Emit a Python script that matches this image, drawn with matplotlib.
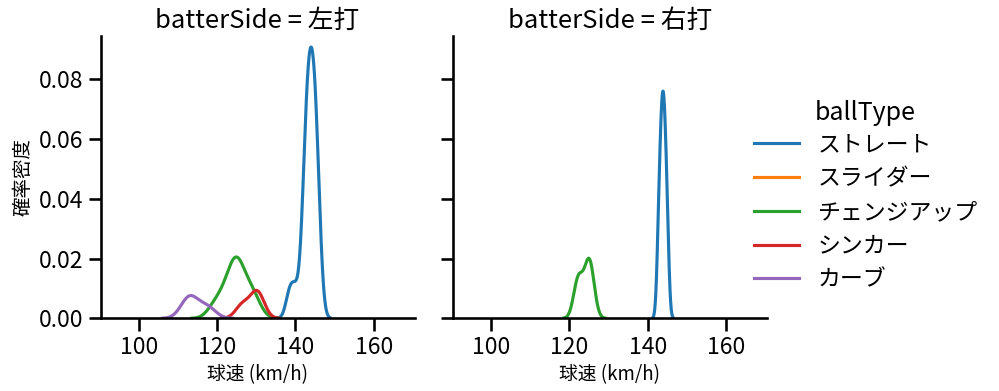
import numpy as np
import matplotlib
matplotlib.use("Agg")
import matplotlib.pyplot as plt

plt.rcParams['font.family'] = ['Noto Sans CJK JP', 'DejaVu Sans']

# ---- data (pitch speeds, km/h) ----
sides = ["左打", "右打"]
ball_types = ["ストレート", "スライダー", "チェンジアップ", "シンカー", "カーブ"]
colors = ["#1f77b4", "#ff7f0e", "#2ca02c", "#d62728", "#9467bd"]

left_straight = [138.5, 140.0, 142.1, 142.2, 142.6, 142.8, 143.0, 143.2, 143.4, 143.6,
                 143.8, 144.0, 144.2, 144.4, 144.6, 144.8, 145.0, 145.2, 145.4, 145.8, 145.9]
left_slider = [131.0]
left_changeup = [119.5, 122.0, 123.5, 124.5, 125.0, 125.5, 126.0, 128.5, 129.5]
left_sinker = [126.5, 130.0, 130.5]
left_curve = [112.5, 113.5, 117.5]

right_straight = [142.72, 143.12, 143.44, 143.67, 143.9, 144.13, 144.36, 144.68, 145.08]
right_slider = []
right_changeup = [122.0, 122.6, 124.6, 125.1, 125.6]
right_sinker = []
right_curve = []

panel_data = {
    "左打": [left_straight, left_slider, left_changeup, left_sinker, left_curve],
    "右打": [right_straight, right_slider, right_changeup, right_sinker, right_curve],
}

x_ticks = [100, 120, 140, 160]
y_ticks = [0.00, 0.02, 0.04, 0.06, 0.08]

n_total = sum(len(s) for side in sides for s in panel_data[side])


def kde_curve(samples, gridsize=200, cut=3):
    x = np.asarray(samples, float)
    n = len(x)
    sd = x.std(ddof=1)
    bw = sd * n ** (-1 / 5)
    grid = np.linspace(x.min() - cut * bw, x.max() + cut * bw, gridsize)
    dens = np.exp(-0.5 * ((grid[:, None] - x[None, :]) / bw) ** 2).sum(1)
    dens /= (bw * np.sqrt(2 * np.pi))
    return grid, dens / n_total


fig = plt.figure(figsize=(9.99, 3.91), dpi=100)
W, H = 999, 391
axes = []
for i, left_px in enumerate([100.7, 453.0]):
    ax = fig.add_axes([left_px / W, (H - 318.3) / H, 313.8 / W, (318.3 - 36) / H])
    axes.append(ax)

for ax, side in zip(axes, sides):
    for samples, c in zip(panel_data[side], colors):
        if len(samples) < 2:
            continue
        g, d = kde_curve(samples)
        ax.plot(g, d, color=c, lw=2.25)
    ax.set_xlim(90.3, 170.4)
    ax.set_ylim(0, 0.0945)
    ax.set_xticks(x_ticks)
    ax.set_yticks(y_ticks)
    ax.spines['top'].set_visible(False)
    ax.spines['right'].set_visible(False)
    for sp in ['left', 'bottom']:
        ax.spines[sp].set_linewidth(1.875)
    ax.tick_params(width=1.875, length=9, labelsize=16.5)
    ax.set_title(f"batterSide = {side}", fontsize=18.5)
    ax.set_xlabel("球速 (km/h)", fontsize=13.5)

axes[0].set_ylabel("確率密度", fontsize=14)
axes[0].yaxis.set_major_formatter(matplotlib.ticker.FormatStrFormatter('%.2f'))
axes[1].tick_params(labelleft=False)

handles = [plt.Line2D([], [], color=c, lw=2.25) for c in colors]
fig.legend(handles, ball_types, loc="center left",
           bbox_to_anchor=(733 / W, (H - 212.3) / H), frameon=False, fontsize=16.5,
           handlelength=2.0, labelspacing=0.47)
fig.text(865 / W, (H - 113) / H, "ballType", fontsize=18, ha="center", va="center")

fig.savefig("out.png", dpi=100)
